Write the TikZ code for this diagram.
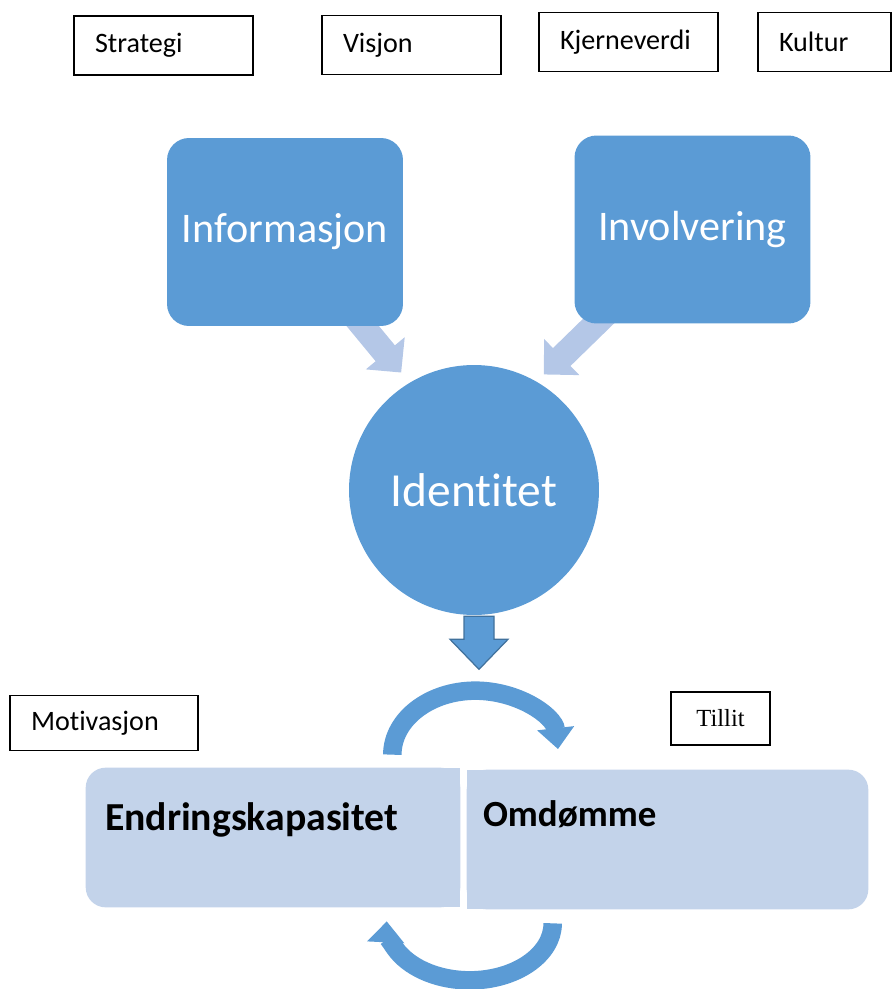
\documentclass[tikz,border=0pt]{standalone}
\usepackage{fontspec}
\setmainfont{Carlito}[Ligatures={NoCommon,NoContextual,NoRequired},Contextuals=NoAlternate]
\newfontfamily\tnr{Liberation Serif}
\usetikzlibrary{arrows.meta,calc}

\definecolor{wordblue}{HTML}{5B9BD5}
\definecolor{wordedge}{HTML}{41719C}
\definecolor{softblue}{HTML}{B4C7E7}
\definecolor{paleblue}{HTML}{C3D3EA}

\pgfdeclarelayer{background}
\pgfsetlayers{background,main}

\begin{document}
\begin{tikzpicture}[x=0.02cm,y=-0.02cm,
    tag/.style={draw,line width=0.8pt,inner xsep=0.42cm,inner ysep=0pt,minimum height=1.18cm,
      align=left,font=\fontsize{16}{19}\selectfont},
    bluebox/.style={fill=wordblue,rounded corners=0.44cm,minimum width=4.72cm,minimum height=3.76cm,
      text=white,font=\fontsize{24}{28}\selectfont},
    core/.style={circle,fill=wordblue,minimum size=5cm,text=white,font=\fontsize{27}{32}\selectfont},
    half/.style={minimum height=2.78cm,inner ysep=0pt,align=left,font=\bfseries\fontsize{22.6}{26}\selectfont},
    softarrow/.style={softblue,line width=0.5cm,-{Triangle[width=0.98cm,length=0.5cm]}},
    looparrow/.style={wordblue,line width=0.37cm,-{Triangle[width=0.72cm,length=0.42cm]}}]

  \useasboundingbox (0,0) rectangle (892,989);

  % labels along the top
  \node[tag,text width=2.74cm] (strat) at (163.5,45.5) {Strategi};
  \node[tag,text width=2.74cm] (visj) at (411.5,45) {Visjon};
  \node[tag,text width=2.74cm] (kjern) at (628.5,42) {Kjerneverdi};
  \node[tag,text width=1.82cm] (kult) at (824.5,42) {Kultur};

  % the two sources and the core
  \node[bluebox] (info) at (285,232) {Informasjon};
  \node[bluebox] (invol) at (692.5,229.5) {Involvering};
  \node[core] (ident) at (474,490) {Identitet};

  % side labels
  \node[tag,text width=2.92cm,minimum height=1.1cm] (motiv) at (104,723) {Motivasjon};
  \node[tag,text width=1.14cm,minimum height=1.06cm,align=center,font=\tnr\fontsize{14}{17}\selectfont] (tillit) at (720.5,718.5) {Tillit};

  % bottom pair
  \node[half,minimum width=7.48cm,text width=6.72cm,inner xsep=0.38cm,text height=1.24cm,text depth=1.54cm] (endr) at (273,837.5) {Endringskapasitet};
  \node[half,minimum width=8.02cm,text width=7.38cm,inner xsep=0.32cm,text height=1.12cm,text depth=1.66cm,
    font=\bfseries\fontsize{21}{24}\selectfont] (omd) at (667.5,839.5) {Omdømme};

  \begin{pgfonlayer}{background}
    \fill[paleblue,rounded corners=0.4cm] (endr.south west) rectangle (endr.north east);
    \fill[paleblue] (endr.south) rectangle (endr.north east);
    \fill[paleblue,rounded corners=0.4cm] (omd.south west) rectangle (omd.north east);
    \fill[paleblue] (omd.south west) rectangle (omd.north);
    \draw[softarrow,shorten >=0.26cm] (info.center) -- (ident.121);
    \draw[softarrow,shorten >=0.2cm] (invol.center) -- (ident.60);
  \end{pgfonlayer}

  \draw[fill=wordblue,draw=wordedge,line width=0.7pt] (ident.south) ++(-10,1) -- ++(30,0) -- ++(0,23)
    -- ++(14,0) -- ++(-29,30) -- ++(-29,-30) -- ++(14,0) -- cycle;

  \draw[looparrow] ($(endr.north east)+(-68,-13)$) arc[start angle=180,end angle=355,x radius=83,y radius=64];
  \draw[looparrow] ($(omd.south west)+(86,14)$) arc[start angle=0,end angle=182,x radius=83,y radius=57];
\end{tikzpicture}
\end{document}
